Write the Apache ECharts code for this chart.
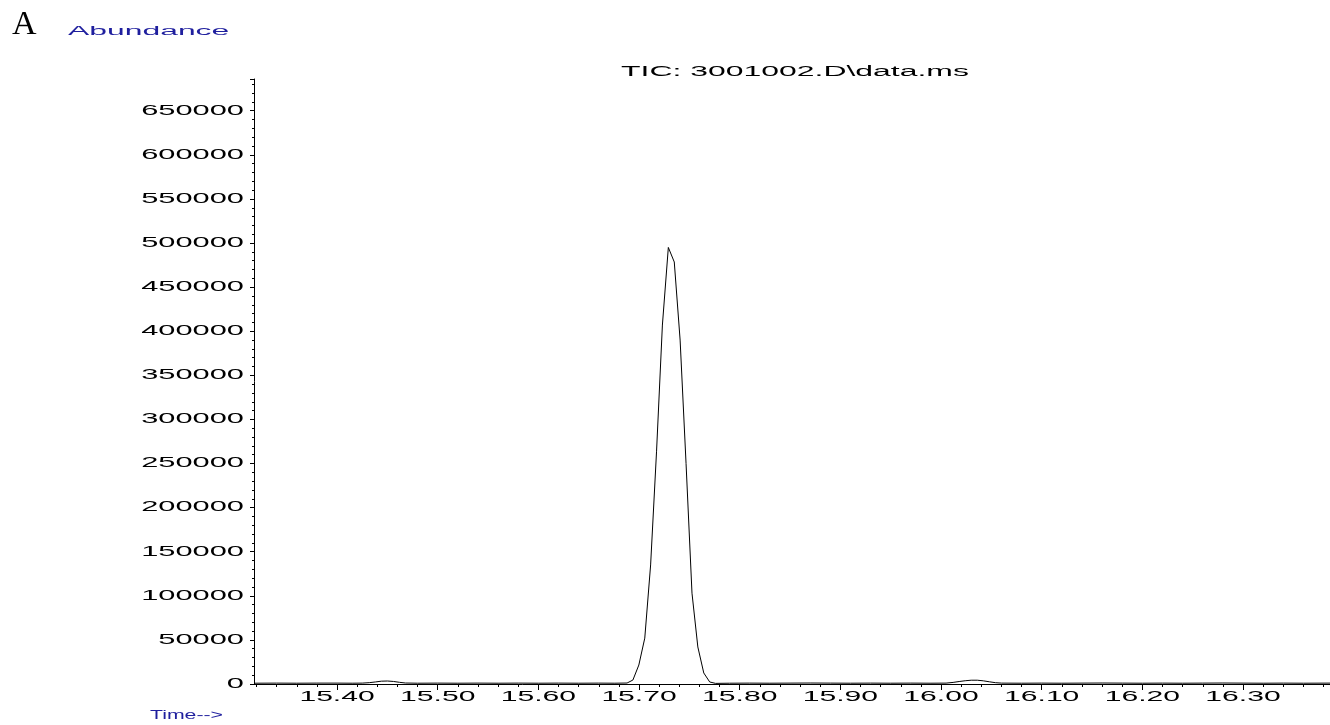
<!DOCTYPE html>
<html>
<head>
<meta charset="utf-8">
<script src="https://cdn.jsdelivr.net/npm/echarts@6/dist/echarts.min.js"></script>
<style>
  html, body { margin: 0; padding: 0; background: #fff; }
  #chart { width: 1330px; height: 725px; }
</style>
</head>
<body>
<div id="chart"></div>
<script>
// ---- data ----
const times = [
  15.3175, 15.34, 15.36, 15.38, 15.40, 15.415, 15.425,
  15.432, 15.438, 15.444, 15.450, 15.456, 15.462, 15.468,
  15.48, 15.50, 15.52, 15.54, 15.56, 15.58, 15.60, 15.62, 15.64, 15.66, 15.676,
  15.6881, 15.6939, 15.6998, 15.7057, 15.7115, 15.7174, 15.7232, 15.7291,
  15.7350, 15.7408, 15.7467, 15.7526, 15.7584, 15.7643, 15.7702, 15.7760,
  15.79, 15.81, 15.83, 15.85, 15.87, 15.89, 15.91, 15.93, 15.95, 15.97, 15.99,
  16.005, 16.012, 16.018, 16.024, 16.030, 16.036, 16.042, 16.048, 16.054, 16.060,
  16.08, 16.10, 16.12, 16.14, 16.16, 16.18, 16.20, 16.22, 16.24, 16.26, 16.28,
  16.30, 16.32, 16.34, 16.36, 16.3864
];
const abundance = [
  900, 1000, 900, 1000, 1000, 900, 1000,
  1500, 2300, 3200, 3400, 2900, 1900, 1100,
  900, 1000, 900, 1000, 900, 1000, 900, 1000, 900, 1000, 900,
  1100, 4500, 21500, 52000, 135000, 264000, 407000, 495000,
  478500, 390000, 250000, 103000, 42000, 12500, 2300, 700,
  900, 1000, 900, 1000, 1100, 1000, 900, 1000, 900, 1000, 900,
  1000, 1800, 2800, 3700, 4300, 4300, 3600, 2500, 1500, 1000,
  900, 1000, 900, 1000, 1100, 1000, 900, 1000, 900, 1000, 1100,
  1000, 900, 1000, 900, 1000
];
const yTickValues = [0, 50000, 100000, 150000, 200000, 250000, 300000, 350000,
  400000, 450000, 500000, 550000, 600000, 650000];
const yTickLabels = ['0', '50000', '100000', '150000', '200000', '250000', '300000', '350000',
  '400000', '450000', '500000', '550000', '600000', '650000'];
const xMajorValues = [15.40, 15.50, 15.60, 15.70, 15.80, 15.90, 16.00, 16.10, 16.20, 16.30];
const xMajorLabels = ['15.40', '15.50', '15.60', '15.70', '15.80', '15.90', '16.00', '16.10', '16.20', '16.30'];
const xMinorValues = [15.32, 15.34, 15.36, 15.38, 15.42, 15.44, 15.46, 15.48, 15.52, 15.54, 15.56, 15.58,
  15.62, 15.64, 15.66, 15.68, 15.72, 15.74, 15.76, 15.78, 15.82, 15.84, 15.86, 15.88,
  15.92, 15.94, 15.96, 15.98, 16.02, 16.04, 16.06, 16.08, 16.12, 16.14, 16.16, 16.18,
  16.22, 16.24, 16.26, 16.28, 16.32, 16.34, 16.36, 16.38];
const chartTitle = 'TIC: 3001002.D\\data.ms';
const panelLetter = 'A';
const yAxisName = 'Abundance';
const xAxisName = 'Time-->';

const X_MIN = 15.3175, X_MAX = 16.3864, Y_MIN = 0, Y_MAX = 686000;

const chart = echarts.init(document.getElementById('chart'), null, { renderer: 'canvas' });
const black = '#000';
const blue = '#1f1f9e';
const sans = '"Liberation Sans", Arial, sans-serif';

chart.setOption({
  animation: false,
  backgroundColor: '#fff',
  grid: { left: 254, right: 0, top: 79, bottom: 41, containLabel: false },
  xAxis: [{
    type: 'value', min: X_MIN, max: X_MAX,
    axisLine: { show: true, onZero: false, lineStyle: { color: black, width: 1 } },
    axisTick: { show: true, length: 6, customValues: xMajorValues, lineStyle: { color: black } },
    axisLabel: { show: false },
    splitLine: { show: false }
  }, {
    type: 'value', min: X_MIN, max: X_MAX, position: 'bottom', gridIndex: 0,
    axisLine: { show: false },
    axisTick: { show: true, length: 3, customValues: xMinorValues, lineStyle: { color: black } },
    axisLabel: { show: false },
    splitLine: { show: false }
  }],
  yAxis: {
    type: 'value', min: Y_MIN, max: Y_MAX, interval: 50000,
    axisLine: { show: true, lineStyle: { color: black, width: 1 } },
    axisTick: { show: true, length: 4, lineStyle: { color: black } },
    minorTick: { show: true, splitNumber: 5, length: 2, lineStyle: { color: black } },
    axisLabel: { show: false },
    splitLine: { show: false }
  },
  series: [{
    type: 'line',
    xAxisIndex: 0,
    data: times.map((t, i) => [t, abundance[i]]),
    showSymbol: false,
    symbol: 'none',
    lineStyle: { color: black, width: 1 },
    clip: true
  }]
});

// Text is horizontally stretched in the original; draw labels as scaled text
const graphics = [];
yTickValues.forEach((v, i) => {
  const py = chart.convertToPixel({ yAxisIndex: 0 }, v);
  const px = chart.convertToPixel({ xAxisIndex: 0 }, X_MIN);
  graphics.push({
    type: 'text', x: px - 10, y: py, scaleX: 2.2, silent: true,
    style: { text: yTickLabels[i], font: '14px ' + sans, fill: black,
      align: 'right', textAlign: 'right', verticalAlign: 'middle', textVerticalAlign: 'middle' }
  });
});
const axisY = chart.convertToPixel({ yAxisIndex: 0 }, 0);
xMajorValues.forEach((v, i) => {
  const px = chart.convertToPixel({ xAxisIndex: 0 }, v);
  graphics.push({
    type: 'text', x: px, y: axisY + 13, scaleX: 2.15, silent: true,
    style: { text: xMajorLabels[i], font: '14px ' + sans, fill: black,
      align: 'center', textAlign: 'center', verticalAlign: 'middle', textVerticalAlign: 'middle' }
  });
});
const midX = (chart.convertToPixel({ xAxisIndex: 0 }, X_MIN) + chart.convertToPixel({ xAxisIndex: 0 }, X_MAX)) / 2;
graphics.push({
  type: 'text', x: midX + 3, y: 72, scaleX: 2.28, silent: true,
  style: { text: chartTitle, font: '14px ' + sans, fill: black,
    align: 'center', textAlign: 'center', verticalAlign: 'middle', textVerticalAlign: 'middle' }
});
graphics.push({
  type: 'text', x: 12, y: 25, silent: true,
  style: { text: panelLetter, font: '34px "Liberation Serif", "Times New Roman", serif', fill: black,
    align: 'left', textAlign: 'left', verticalAlign: 'middle', textVerticalAlign: 'middle' }
});
graphics.push({
  type: 'text', x: 68, y: 31.5, scaleX: 2.55, silent: true,
  style: { text: yAxisName, font: '12.5px ' + sans, fill: blue,
    align: 'left', textAlign: 'left', verticalAlign: 'middle', textVerticalAlign: 'middle' }
});
graphics.push({
  type: 'text', x: 150, y: 716, scaleX: 1.7, silent: true,
  style: { text: xAxisName, font: '12.5px ' + sans, fill: blue,
    align: 'left', textAlign: 'left', verticalAlign: 'middle', textVerticalAlign: 'middle' }
});
chart.setOption({ graphic: { elements: graphics } });
</script>
</body>
</html>
